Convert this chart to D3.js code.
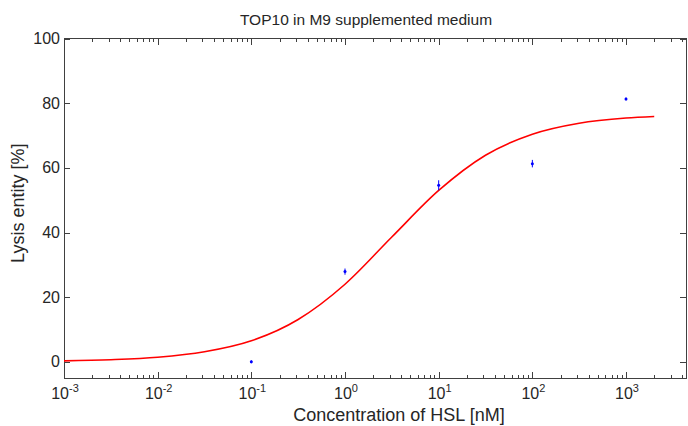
<!DOCTYPE html>
<html>
<head>
<meta charset="utf-8">
<script src="https://cdn.jsdelivr.net/npm/d3@7"></script>
<style>
  body { margin: 0; background: #fff; }
  text { font-family: "Liberation Sans", Arial, sans-serif; fill: #262626; }
</style>
</head>
<body>
<div class="canva"></div>
<script>
// data
const xMajor = [1e-3, 1e-2, 1e-1, 1, 10, 100, 1000];
const xExpo = ["-3", "-2", "-1", "0", "1", "2", "3"];
const yTicks = [0, 20, 40, 60, 80, 100];

// measured points (concentration nM, lysis %, error)
const doseNM = [0.1, 1, 10, 100, 1000];
const lysisPct = [0, 27.9, 54.6, 61.3, 81.3];
const lysisErr = [0.3, 0.8, 1.4, 1.0, 0.3];

// fitted red curve, read at half-decade steps
const fitDose = [0.001, 0.00316, 0.01, 0.0316, 0.1, 0.316, 1, 3.16, 10, 31.6, 100, 316, 1000, 2000];
const fitPct = [0.3, 0.65, 1.4, 3.1, 6.5, 13.1, 24.0, 38.6, 53.0, 63.9, 70.4, 73.8, 75.4, 75.9];

const W = 688, H = 426;
const margin = {top: 38.5, right: 2, bottom: 48, left: 64};
const graphWidth = W - margin.left - margin.right;
const graphHeight = H - margin.top - margin.bottom;

const svg = d3.select(".canva").append("svg")
  .attr("width", W)
  .attr("height", H);

const x = d3.scaleLog().domain([1e-3, 1e3 * Math.pow(10, 60 / 93.7)]).range([0, graphWidth]);
const y = d3.scaleLinear().domain([-5, 100]).range([graphHeight, 0]);

const g = svg.append("g")
  .attr("transform", `translate(${margin.left},${margin.top})`);

// minor ticks on the log axis
const xMinor = x.ticks().filter(v => !xMajor.some(m => Math.abs(m - v) / m < 1e-9));

const axisColor = "#404040";

function styleAxis(sel) {
  sel.select(".domain").remove();
  sel.selectAll("line").attr("stroke", axisColor).attr("shape-rendering", "crispEdges");
  sel.selectAll("text").remove();
}

// bottom / top major + minor
g.append("g").attr("transform", `translate(0,${graphHeight})`)
  .call(d3.axisBottom(x).tickValues(xMajor).tickSize(-6)).call(styleAxis);
g.append("g").attr("transform", `translate(0,${graphHeight})`)
  .call(d3.axisBottom(x).tickValues(xMinor).tickSize(-3)).call(styleAxis);
g.append("g")
  .call(d3.axisTop(x).tickValues(xMajor).tickSize(-6)).call(styleAxis);
g.append("g")
  .call(d3.axisTop(x).tickValues(xMinor).tickSize(-3)).call(styleAxis);

// left / right
g.append("g").call(d3.axisLeft(y).tickValues(yTicks).tickSize(-6)).call(styleAxis);
g.append("g").attr("transform", `translate(${graphWidth},0)`)
  .call(d3.axisRight(y).tickValues(yTicks).tickSize(-6)).call(styleAxis);

// box
g.append("rect")
  .attr("x", 0).attr("y", 0)
  .attr("width", graphWidth).attr("height", graphHeight)
  .attr("fill", "none")
  .attr("stroke", axisColor)
  .attr("shape-rendering", "crispEdges");

// x tick labels 10^n
const xl = g.append("g").selectAll("text")
  .data(xMajor)
  .join("text")
  .attr("x", d => x(d) + 1)
  .attr("y", graphHeight + 21)
  .attr("text-anchor", "middle")
  .attr("font-size", 16);
xl.append("tspan").text("10");
xl.append("tspan")
  .attr("dy", -7)
  .attr("font-size", 11)
  .text((d, i) => xExpo[i]);

// y tick labels
g.append("g").selectAll("text")
  .data(yTicks)
  .join("text")
  .attr("x", -4)
  .attr("y", d => y(d))
  .attr("dy", "0.35em")
  .attr("text-anchor", "end")
  .attr("font-size", 16)
  .text(d => d);

// fitted curve
const line = d3.line()
  .x((d, i) => x(fitDose[i]))
  .y(d => y(d))
  .curve(d3.curveMonotoneX);

g.append("path")
  .datum(fitPct)
  .attr("d", line)
  .attr("fill", "none")
  .attr("stroke", "#ff0000")
  .attr("stroke-width", 1.6);

// error bars + points
const pts = g.append("g").selectAll("g")
  .data(doseNM)
  .join("g");

pts.append("line")
  .attr("x1", d => x(d)).attr("x2", d => x(d))
  .attr("y1", (d, i) => y(lysisPct[i] - lysisErr[i]) + 0.5)
  .attr("y2", (d, i) => y(lysisPct[i] + lysisErr[i]) - 0.5)
  .attr("stroke", "#0000ff")
  .attr("stroke-width", 1);

pts.append("circle")
  .attr("cx", d => x(d))
  .attr("cy", (d, i) => y(lysisPct[i]))
  .attr("r", 1.5)
  .attr("fill", "#0000ff");

// title and axis labels
svg.append("text")
  .attr("x", margin.left + graphWidth / 2 - 9)
  .attr("y", 24.5)
  .attr("text-anchor", "middle")
  .attr("font-size", 15.5)
  .text("TOP10 in M9 supplemented medium");

svg.append("text")
  .attr("x", 399)
  .attr("y", H - 5)
  .attr("text-anchor", "middle")
  .attr("font-size", 18)
  .text("Concentration of HSL [nM]");

svg.append("text")
  .attr("transform", `translate(24,${margin.top + graphHeight / 2 - 5}) rotate(-90)`)
  .attr("text-anchor", "middle")
  .attr("font-size", 18)
  .text("Lysis entity [%]");
</script>
</body>
</html>
